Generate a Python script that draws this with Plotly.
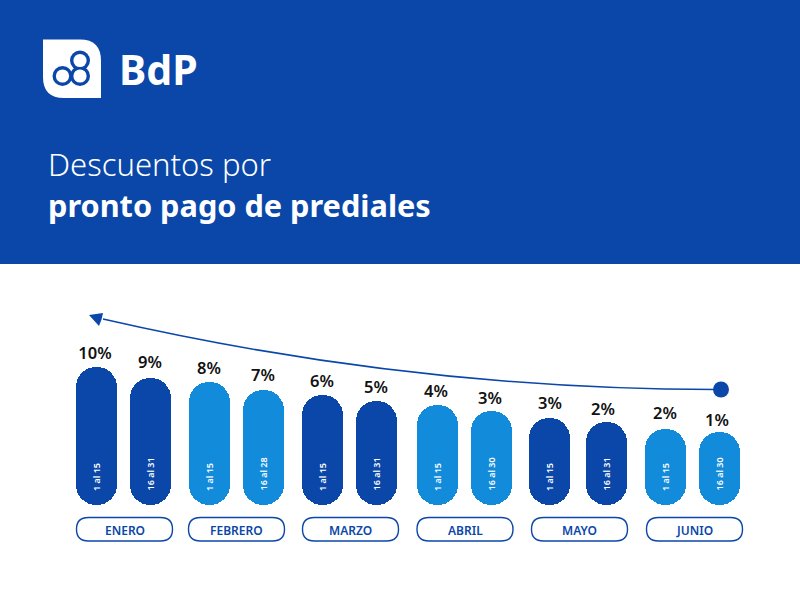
import plotly.graph_objects as go

months = ["ENERO", "FEBRERO", "MARZO", "ABRIL", "MAYO", "JUNIO"]
periods = ["1 al 15", "16 al 31", "1 al 15", "16 al 28", "1 al 15", "16 al 31",
           "1 al 15", "16 al 30", "1 al 15", "16 al 31", "1 al 15", "16 al 30"]
discounts = [10, 9, 8, 7, 6, 5, 4, 3, 3, 2, 2, 1]
bar_lengths = [138, 127, 123, 115, 110, 104, 100, 94, 87, 83, 76, 73]
label_heights = [150, 141, 135, 128, 122, 116, 112, 105, 100, 94, 90, 83]
bar_positions = [96, 150, 209, 263, 322, 376, 437, 491, 549, 606, 665, 719]
label_positions = [95, 150, 209, 263, 322, 376, 436, 490, 550, 603, 665, 717]
pill_centers = [124.5, 236.5, 350.5, 465, 579.5, 694.5]

DARK = "#0A47A9"
LIGHT = "#138BDB"
FONT = "Noto Sans"
BOTTOM = 505


def Y(py):
    return BOTTOM - py


colors = [DARK, DARK, LIGHT, LIGHT, DARK, DARK, LIGHT, LIGHT, DARK, DARK, LIGHT, LIGHT]

fig = go.Figure()
fig.add_trace(go.Bar(
    x=bar_positions, y=bar_lengths, base=[0] * len(bar_lengths), width=41,
    marker=dict(color=colors, cornerradius="50%", line=dict(width=0)),
    hoverinfo="skip", showlegend=False,
))
fig.add_trace(go.Scatter(
    x=label_positions, y=label_heights, mode="text",
    text=[f"{d}%" for d in discounts], textposition="middle center",
    textfont=dict(color="#111111", size=16.5, family=FONT, weight=600),
    hoverinfo="skip", showlegend=False, cliponaxis=False,
))


def path(*parts):
    out = []
    for p in parts:
        if isinstance(p, str):
            out.append(p)
        else:
            out.append(f"{p[0]},{Y(p[1])}")
    return " ".join(out)


def add_shape(d, fill=None, line=None, width=0, layer="above"):
    fig.add_shape(type="path", path=d, xref="x", yref="y", layer=layer,
                  fillcolor=fill if fill else "rgba(0,0,0,0)",
                  line=dict(color=line if line else "rgba(0,0,0,0)", width=width))


def circle(cx, cy, r, fill, line=None, width=0):
    fig.add_shape(type="circle", xref="x", yref="y", x0=cx - r, x1=cx + r,
                  y0=Y(cy + r), y1=Y(cy - r), layer="above", fillcolor=fill,
                  line=dict(color=line if line else "rgba(0,0,0,0)", width=width))


# header band
fig.add_shape(type="rect", xref="x", yref="y", x0=0, x1=800, y0=Y(264), y1=Y(0),
              fillcolor=DARK, line=dict(width=0), layer="below")

# logo
add_shape(path("M", (43, 39.5), "L", (80, 39.5), "Q", (101, 39.5), (101, 61), "L", (101, 98),
               "L", (64, 98), "Q", (43, 98), (43, 77), "Z"), fill="white")
logo_rings = [(80, 60.5), (62.5, 76), (80, 76)]
for cx, cy in logo_rings:
    circle(cx, cy, 10, DARK)
for cx, cy in logo_rings:
    circle(cx, cy, 6.6, "white")

# trend arrow
add_shape(path("M", (103, 319), "Q", (413, 390), (721, 389.5)), line=DARK, width=1.6)
add_shape(path("M", (89, 315), "L", (103, 313), "L", (101.5, 319.5), "L", (99, 326), "Z"), fill=DARK)
circle(721, 389.5, 8, DARK)

# month pills
for c in pill_centers:
    l, r, t, b = c - 48, c + 48, 517.5, 541
    add_shape(path("M", (l + 12, t), "L", (r - 12, t), "Q", (r, t), (r, (t + b) / 2),
                   "Q", (r, b), (r - 12, b), "L", (l + 12, b), "Q", (l, b), (l, (t + b) / 2),
                   "Q", (l, t), (l + 12, t), "Z"), fill="white", line=DARK, width=1.4)

annotations = [
    dict(x=117, y=Y(69), text="<b>BdP</b>", font=dict(size=41, color="white", family=FONT), xanchor="left"),
    dict(x=45.5, y=Y(163.5), text="Descuentos por", font=dict(size=31, color="white", family=FONT, weight=300), xanchor="left"),
    dict(x=45.5, y=Y(204.5), text="<b>pronto pago de prediales</b>", font=dict(size=30.7, color="white", family=FONT), xanchor="left"),
]
for c, m in zip(pill_centers, months):
    annotations.append(dict(x=c, y=Y(530), text=m, xanchor="center",
                            font=dict(size=12, color=DARK, family=FONT, weight=600)))
for a in annotations:
    fig.add_annotation(xref="x", yref="y", showarrow=False, yanchor="middle", **a)
for x, p in zip(bar_positions, periods):
    fig.add_annotation(xref="x", yref="y", x=x, y=Y(493), text=p, textangle=-90, showarrow=False,
                       xanchor="center", yanchor="bottom",
                       font=dict(size=9, color="white", family=FONT, weight=600))

fig.update_layout(
    width=800, height=606, autosize=False,
    margin=dict(l=0, r=0, t=0, b=0),
    paper_bgcolor="white", plot_bgcolor="white",
    xaxis=dict(range=[0, 800], visible=False, fixedrange=True),
    yaxis=dict(range=[Y(606), Y(0)], visible=False, fixedrange=True),
    barmode="overlay", bargap=0, showlegend=False,
)
fig.write_html("out.html", config=dict(displayModeBar=False),
               post_script="document.body.style.margin='0';document.body.style.overflow='hidden';")
